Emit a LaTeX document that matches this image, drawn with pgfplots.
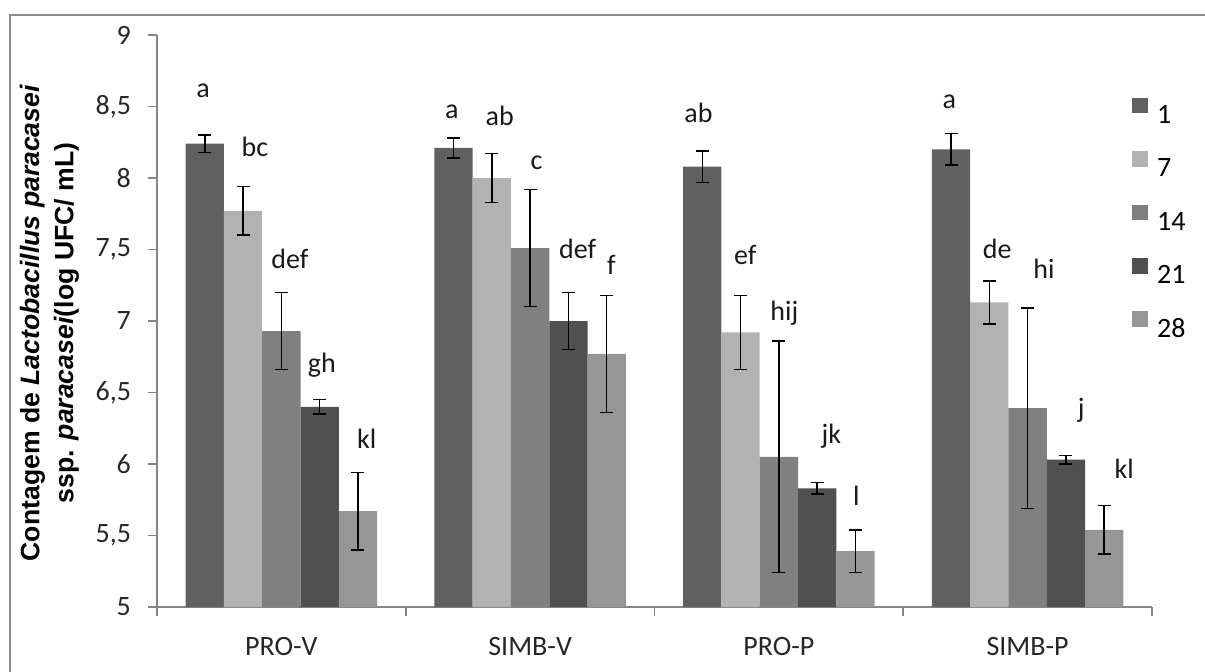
\documentclass[border=0pt]{standalone}
\usepackage{fontspec}
\setmainfont{Carlito}
\newfontfamily\labfont{Liberation Sans}
\usepackage{pgfplots}
\usepackage{pgfplotstable}
\pgfplotsset{compat=1.18}
\definecolor{c1}{HTML}{606060}
\definecolor{c7}{HTML}{B2B2B2}
\definecolor{c14}{HTML}{808080}
\definecolor{c21}{HTML}{505050}
\definecolor{c28}{HTML}{969696}
\definecolor{axisgray}{HTML}{868686}
\definecolor{framegray}{HTML}{8C8C8C}
\pgfplotsset{myerr/.style={error bars/.cd, y dir=both, y explicit,
  error bar style={black, line width=0.75pt},
  error mark options={rotate=90, mark size=3.25pt, line width=0.75pt, black}}}
\pgfplotstableread{
x y1 e1 y7 e7 y14 e14 y21 e21 y28 e28
0 8.24 0.06 7.77 0.17 6.93 0.27 6.40 0.05 5.67 0.27
1 8.21 0.07 8.00 0.17 7.51 0.41 7.00 0.20 6.77 0.41
2 8.08 0.11 6.92 0.26 6.05 0.81 5.83 0.04 5.39 0.15
3 8.20 0.11 7.13 0.15 6.39 0.70 6.03 0.03 5.54 0.17
}\datatable
\begin{document}
\begin{tikzpicture}
\useasboundingbox (0,0) rectangle (602.5pt,335.5pt);
\draw[framegray, line width=1pt] (5pt,-20pt) -- (5pt,328pt) -- (640pt,328pt);
\begin{axis}[
  at={(78.5pt,32pt)}, anchor=south west,
  scale only axis, width=497.5pt, height=286pt,
  clip=false,
  ybar=0pt, bar width=19.15pt,
  xmin=-0.5, xmax=3.5, ymin=5, ymax=9,
  axis x line*=bottom, axis y line*=left,
  axis line style={draw=axisgray, line width=0.8pt, -},
  tick style={draw=axisgray, line width=0.8pt},
  tick align=outside, major tick length=4.5pt, minor tick length=4.5pt,
  ytick={5,5.5,...,9},
  /pgf/number format/use comma,
  /pgf/number format/assume math mode=true,
  tick label style={font=\fontsize{14}{16}\selectfont, text=black!85},
  yticklabel style={xshift=-5pt},
  xtick={0,1,2,3},
  xticklabels={PRO-V,SIMB-V,PRO-P,SIMB-P},
  xticklabel style={anchor=base, yshift=-19.5pt},
  every major x tick/.append style={draw=none},
  minor xtick={-0.5,0.5,1.5,2.5,3.5},
  legend style={draw=none, fill=none, inner sep=0pt,
    at={(axis description cs:0.9796,0.891)}, anchor=north west,
    font=\fontsize{14}{16}\selectfont, row sep=13.8pt,
    nodes={inner sep=0pt, text height=9pt, text depth=0pt},
    /tikz/every odd column/.append style={column sep=4.7pt}},
  legend cell align=left,
  legend image code/.code={\fill[#1] (0pt,0.6pt) rectangle (7.8pt,8.4pt);},
]
\addplot[fill=c1, draw=none, myerr] table[x=x, y=y1, y error=e1] {\datatable};
\addplot[fill=c7, draw=none, myerr] table[x=x, y=y7, y error=e7] {\datatable};
\addplot[fill=c14, draw=none, myerr] table[x=x, y=y14, y error=e14] {\datatable};
\addplot[fill=c21, draw=none, myerr] table[x=x, y=y21, y error=e21] {\datatable};
\addplot[fill=c28, draw=none, myerr] table[x=x, y=y28, y error=e28] {\datatable};
\legend{1,7,14,21,28}
\tikzset{lab/.style={anchor=base, font=\fontsize{14}{16}\selectfont, text=black!90, inner sep=0pt}}
\node[lab] at (axis cs:-0.315,8.564) {a};
\node[lab] at (axis cs:-0.106,8.149) {bc};
\node[lab] at (axis cs:0.034,7.369) {def};
\node[lab] at (axis cs:0.163,6.641) {gh};
\node[lab] at (axis cs:0.343,6.105) {kl};
\node[lab] at (axis cs:0.685,8.417) {a};
\node[lab] at (axis cs:0.878,8.364) {ab};
\node[lab] at (axis cs:1.026,8.056) {c};
\node[lab] at (axis cs:1.191,7.438) {def};
\node[lab] at (axis cs:1.327,7.322) {f};
\node[lab] at (axis cs:1.677,8.390) {ab};
\node[lab] at (axis cs:1.865,7.394) {ef};
\node[lab] at (axis cs:2.022,7.005) {hij};
\node[lab] at (axis cs:2.211,6.141) {jk};
\node[lab] at (axis cs:2.311,5.713) {l};
\node[lab] at (axis cs:2.685,8.488) {a};
\node[lab] at (axis cs:2.878,7.438) {de};
\node[lab] at (axis cs:3.066,7.295) {hi};
\node[lab] at (axis cs:3.215,6.322) {j};
\node[lab] at (axis cs:3.388,5.900) {kl};
\end{axis}
\node[rotate=90, align=center, font=\labfont\bfseries\fontsize{13.3}{17}\selectfont] at (24.75pt,174pt)
  {Contagem de \textit{Lactobacillus paracasei}\\ssp. \textit{paracasei}(log UFC/ mL)};
\end{tikzpicture}
\end{document}
